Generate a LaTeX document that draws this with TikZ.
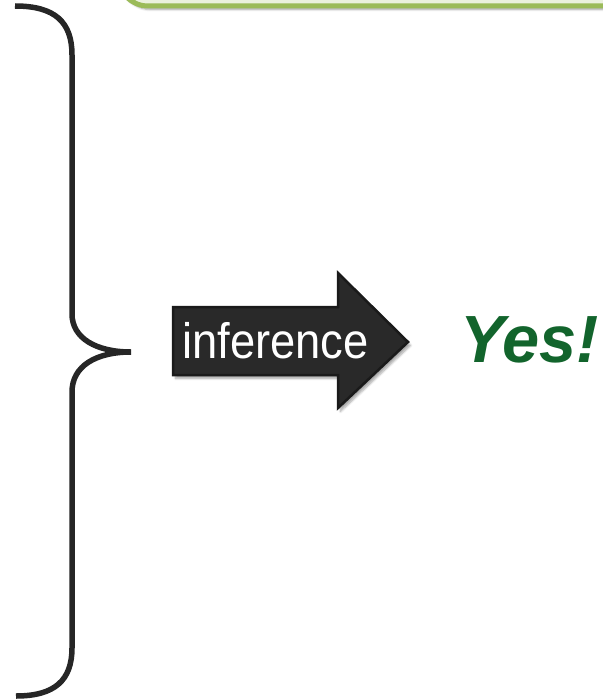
\documentclass[tikz,border=0pt]{standalone}
\usepackage{fontspec}
\setmainfont{Liberation Sans}
\usetikzlibrary{shadows.blur}

\definecolor{boxfill}{HTML}{EBF1DE}
\definecolor{boxline}{HTML}{9BBB59}
\definecolor{arrowfill}{HTML}{292929}
\definecolor{arrowline}{HTML}{1A1A1A}
\definecolor{bracecol}{HTML}{262626}
\definecolor{yesgreen}{RGB}{18,100,44}

\begin{document}
\begin{tikzpicture}[x=1bp,y=-1bp,
  softshadow/.style={blur shadow={shadow xshift=2.5bp,shadow yshift=-3.5bp,shadow blur steps=6,shadow opacity=35}}]

\useasboundingbox (0,0) rectangle (603,699);

% Box on top
\draw[line width=5bp,draw=boxline,fill=boxfill,rounded corners=30bp,softshadow](118,-120) rectangle (720,6);

% Brace
\draw[line width=5.5bp,color=bracecol](15,6) .. controls (55,6) and (72,22) .. (72,55)
  --(72,314) .. controls (72,338) and (96,352) .. (131,352)
  .. controls (96,352) and (72,366) .. (72,392)
  --(72,648) .. controls (72,680) and (55,696) .. (16,696);

% Arrow
\draw[line width=2.5bp,draw=arrowline,fill=arrowfill,line join=miter,softshadow]
  (173,307)--++(165,0)--++(0,-34)--++(70,69)--++(-70,66)--++(0,-33)--++(-165,0)--cycle;

% Texts
\node[anchor=base west,inner sep=0pt,text=white,xscale=0.91,font=\fontsize{50}{50}\selectfont] (inf) at (182,358) {inference};
\node[anchor=base west,inner sep=0pt,text=yesgreen,font=\fontsize{67}{67}\selectfont\bfseries\itshape] (yes) at (460,362) {Yes!};

\end{tikzpicture}
\end{document}
